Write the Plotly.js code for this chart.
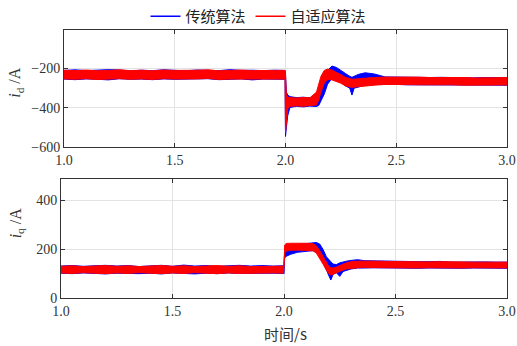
<!DOCTYPE html>
<html>
<head>
<meta charset="utf-8">
<script src="https://cdn.plot.ly/plotly-3.0.1.min.js"></script>
<style>html,body{margin:0;padding:0;background:#fff;}#chart{width:517px;height:346px;}</style>
</head>
<body>
<div id="chart"></div>
<script>
// ---- Data (envelopes of the noisy signals) ----
const seriesNames = ["传统算法", "自适应算法"];
const xTickVals = [1.0, 1.5, 2.0, 2.5, 3.0];
const idTickVals = [-600, -400, -200];
const iqTickVals = [0, 200, 400];

const idT = [1.00,1.05,1.10,1.15,1.20,1.25,1.30,1.35,1.40,1.45,1.50,1.55,1.60,1.65,1.70,1.75,1.80,1.85,1.90,1.95,1.998,
  2.000,2.004,2.010,2.020,2.050,2.080,2.110,2.140,2.150,2.160,2.175,2.190,2.210,2.230,2.250,2.270,2.290,2.300,2.310,2.330,
  2.360,2.400,2.450,2.500,2.550,2.600,2.650,2.700,2.750,2.800,2.850,2.900,2.950,3.000];

const idBlueHi = [-210,-207,-211,-209,-206,-208,-212,-209,-211,-207,-210,-212,-208,-209,-211,-206,-210,-209,-211,-209,-210,
  -230,-320,-335,-343,-348,-346,-349,-345,-320,-285,-240,-210,-188,-195,-208,-225,-240,-245,-240,-230,
  -222,-228,-243,-244,-246,-244,-246,-245,-247,-246,-248,-246,-247,-246];
const idBlueLo = [-254,-257,-253,-255,-258,-252,-255,-254,-257,-253,-255,-256,-254,-252,-257,-255,-253,-258,-254,-255,-255,
  -545,-500,-440,-398,-392,-395,-391,-393,-388,-370,-330,-280,-250,-255,-272,-288,-300,-335,-300,-295,
  -285,-280,-282,-281,-283,-284,-283,-286,-284,-286,-285,-286,-285,-285];
const idRedHi = [-209,-211,-208,-212,-210,-207,-211,-209,-212,-208,-210,-211,-209,-207,-212,-210,-208,-211,-209,-210,-210,
  -225,-335,-345,-348,-350,-347,-349,-320,-280,-240,-210,-203,-208,-218,-232,-245,-252,-255,-254,-252,
  -250,-246,-244,-243,-245,-244,-246,-245,-247,-246,-248,-246,-247,-246];
const idRedLo = [-253,-255,-252,-256,-254,-252,-255,-253,-256,-252,-254,-255,-253,-251,-256,-254,-252,-255,-253,-254,-254,
  -525,-470,-405,-392,-390,-392,-389,-385,-360,-320,-275,-255,-258,-265,-275,-288,-294,-296,-295,-292,
  -290,-285,-281,-280,-282,-283,-282,-284,-283,-285,-284,-285,-284,-284];

const iqT = [1.00,1.05,1.10,1.15,1.20,1.25,1.30,1.35,1.40,1.45,1.50,1.55,1.60,1.65,1.70,1.75,1.80,1.85,1.90,1.95,1.998,
  2.000,2.003,2.010,2.030,2.060,2.100,2.130,2.145,2.160,2.175,2.190,2.200,2.210,2.220,2.235,2.250,2.265,2.280,2.300,2.330,
  2.360,2.400,2.450,2.500,2.550,2.600,2.650,2.700,2.750,2.800,2.850,2.900,2.950,3.000];

const iqBlueHi = [132,134,131,133,135,132,134,130,133,135,131,136,132,134,131,133,135,132,134,132,133,
  138,195,205,212,220,224,226,228,222,200,170,158,150,140,138,145,150,152,155,158,
  154,153,152,150,149,150,150,151,148,149,148,149,148,148];
const iqBlueLo = [103,101,104,102,100,103,102,101,103,100,104,102,100,103,101,104,102,101,102,103,102,
  100,165,172,180,188,193,195,190,175,150,120,95,75,98,105,90,110,115,120,124,
  124,125,123,123,124,123,124,123,124,123,124,123,124,123];
const iqRedHi = [131,133,130,132,134,131,133,130,132,134,131,133,130,132,134,131,133,130,132,131,132,
  132,218,224,225,226,225,223,215,195,170,145,132,125,124,128,135,140,145,150,152,
  153,152,151,150,149,150,149,150,148,149,148,149,148,148];
const iqRedLo = [104,102,105,103,101,104,102,105,103,101,104,102,105,103,101,104,102,105,103,104,103,
  103,185,193,196,197,196,194,185,165,140,115,102,95,97,103,110,116,120,123,125,
  126,125,125,124,125,124,125,124,125,124,125,124,125,124];

// ---- Build traces ----
function band(t, hi, lo, color, xa, ya) {
  return {
    x: t.concat(t.slice().reverse()),
    y: hi.concat(lo.slice().reverse()),
    type: 'scatter', mode: 'lines', fill: 'toself',
    fillcolor: color, line: {color: color, width: 1},
    xaxis: xa, yaxis: ya, showlegend: false, hoverinfo: 'skip'
  };
}
const BLUE = '#0000ff', RED = '#ff0000';
const traces = [
  band(idT, idBlueHi, idBlueLo, BLUE, 'x', 'y'),
  band(idT, idRedHi, idRedLo, RED, 'x', 'y'),
  band(iqT, iqBlueHi, iqBlueLo, BLUE, 'x2', 'y2'),
  band(iqT, iqRedHi, iqRedLo, RED, 'x2', 'y2'),
  {x: [null], y: [null], type: 'scatter', mode: 'lines', name: seriesNames[0], line: {color: BLUE, width: 1.5}, xaxis: 'x', yaxis: 'y'},
  {x: [null], y: [null], type: 'scatter', mode: 'lines', name: seriesNames[1], line: {color: RED, width: 1.5}, xaxis: 'x', yaxis: 'y'}
];

const W = 517, H = 346;
const tickFont = {family: 'Liberation Serif, Times New Roman, serif', size: 14, color: '#333'};
const axisCommon = {
  showline: true, mirror: 'ticks', linecolor: '#333', linewidth: 1,
  ticks: 'inside', ticklen: 4, tickcolor: '#333', tickwidth: 1,
  showgrid: true, gridcolor: '#e3e3e3', gridwidth: 1, zeroline: false,
  tickfont: tickFont, automargin: false
};
const xAxisCommon = Object.assign({}, axisCommon, {range: [1, 3], tickvals: xTickVals, tickformat: '.1f'});

const layout = {
  width: W, height: H,
  margin: {l: 0, r: 0, t: 0, b: 0},
  paper_bgcolor: '#fff', plot_bgcolor: '#fff',
  showlegend: true,
  legend: {orientation: 'h', x: 0.5, xanchor: 'center', y: 1 - 16/H, yanchor: 'middle',
    font: {family: 'Noto Sans CJK SC', size: 15, color: '#222'}, bgcolor: 'rgba(0,0,0,0)', tracegroupgap: 0, itemwidth: 30},
  xaxis: Object.assign({}, xAxisCommon, {domain: [64/W, 507/W], anchor: 'y'}),
  yaxis: Object.assign({}, axisCommon, {domain: [1 - 146.7/H, 1 - 29.3/H], anchor: 'x', range: [-600, -6], tickvals: idTickVals}),
  xaxis2: Object.assign({}, xAxisCommon, {domain: [61/W, 507/W], anchor: 'y2'}),
  yaxis2: Object.assign({}, axisCommon, {domain: [1 - 298.3/H, 1 - 179/H], anchor: 'x2', range: [0, 485], tickvals: iqTickVals}),
  annotations: [
    {text: '<i>i</i><sub>d</sub> /A', xref: 'paper', yref: 'paper', x: 16/W, y: 1 - 82/H, showarrow: false,
      textangle: -90, font: {family: 'Liberation Serif, serif', size: 16, color: '#333'}, xanchor: 'center', yanchor: 'middle'},
    {text: '<i>i</i><sub>q</sub> /A', xref: 'paper', yref: 'paper', x: 16/W, y: 1 - 223/H, showarrow: false,
      textangle: -90, font: {family: 'Liberation Serif, serif', size: 16, color: '#333'}, xanchor: 'center', yanchor: 'middle'},
    {text: '时间/s', xref: 'paper', yref: 'paper', x: 285/W, y: 1 - 333/H, showarrow: false,
      font: {family: 'Noto Sans CJK SC', size: 15, color: '#333'}, xanchor: 'center', yanchor: 'middle'}
  ]
};

Plotly.newPlot('chart', traces, layout, {staticPlot: true, displayModeBar: false});
</script>
</body>
</html>
